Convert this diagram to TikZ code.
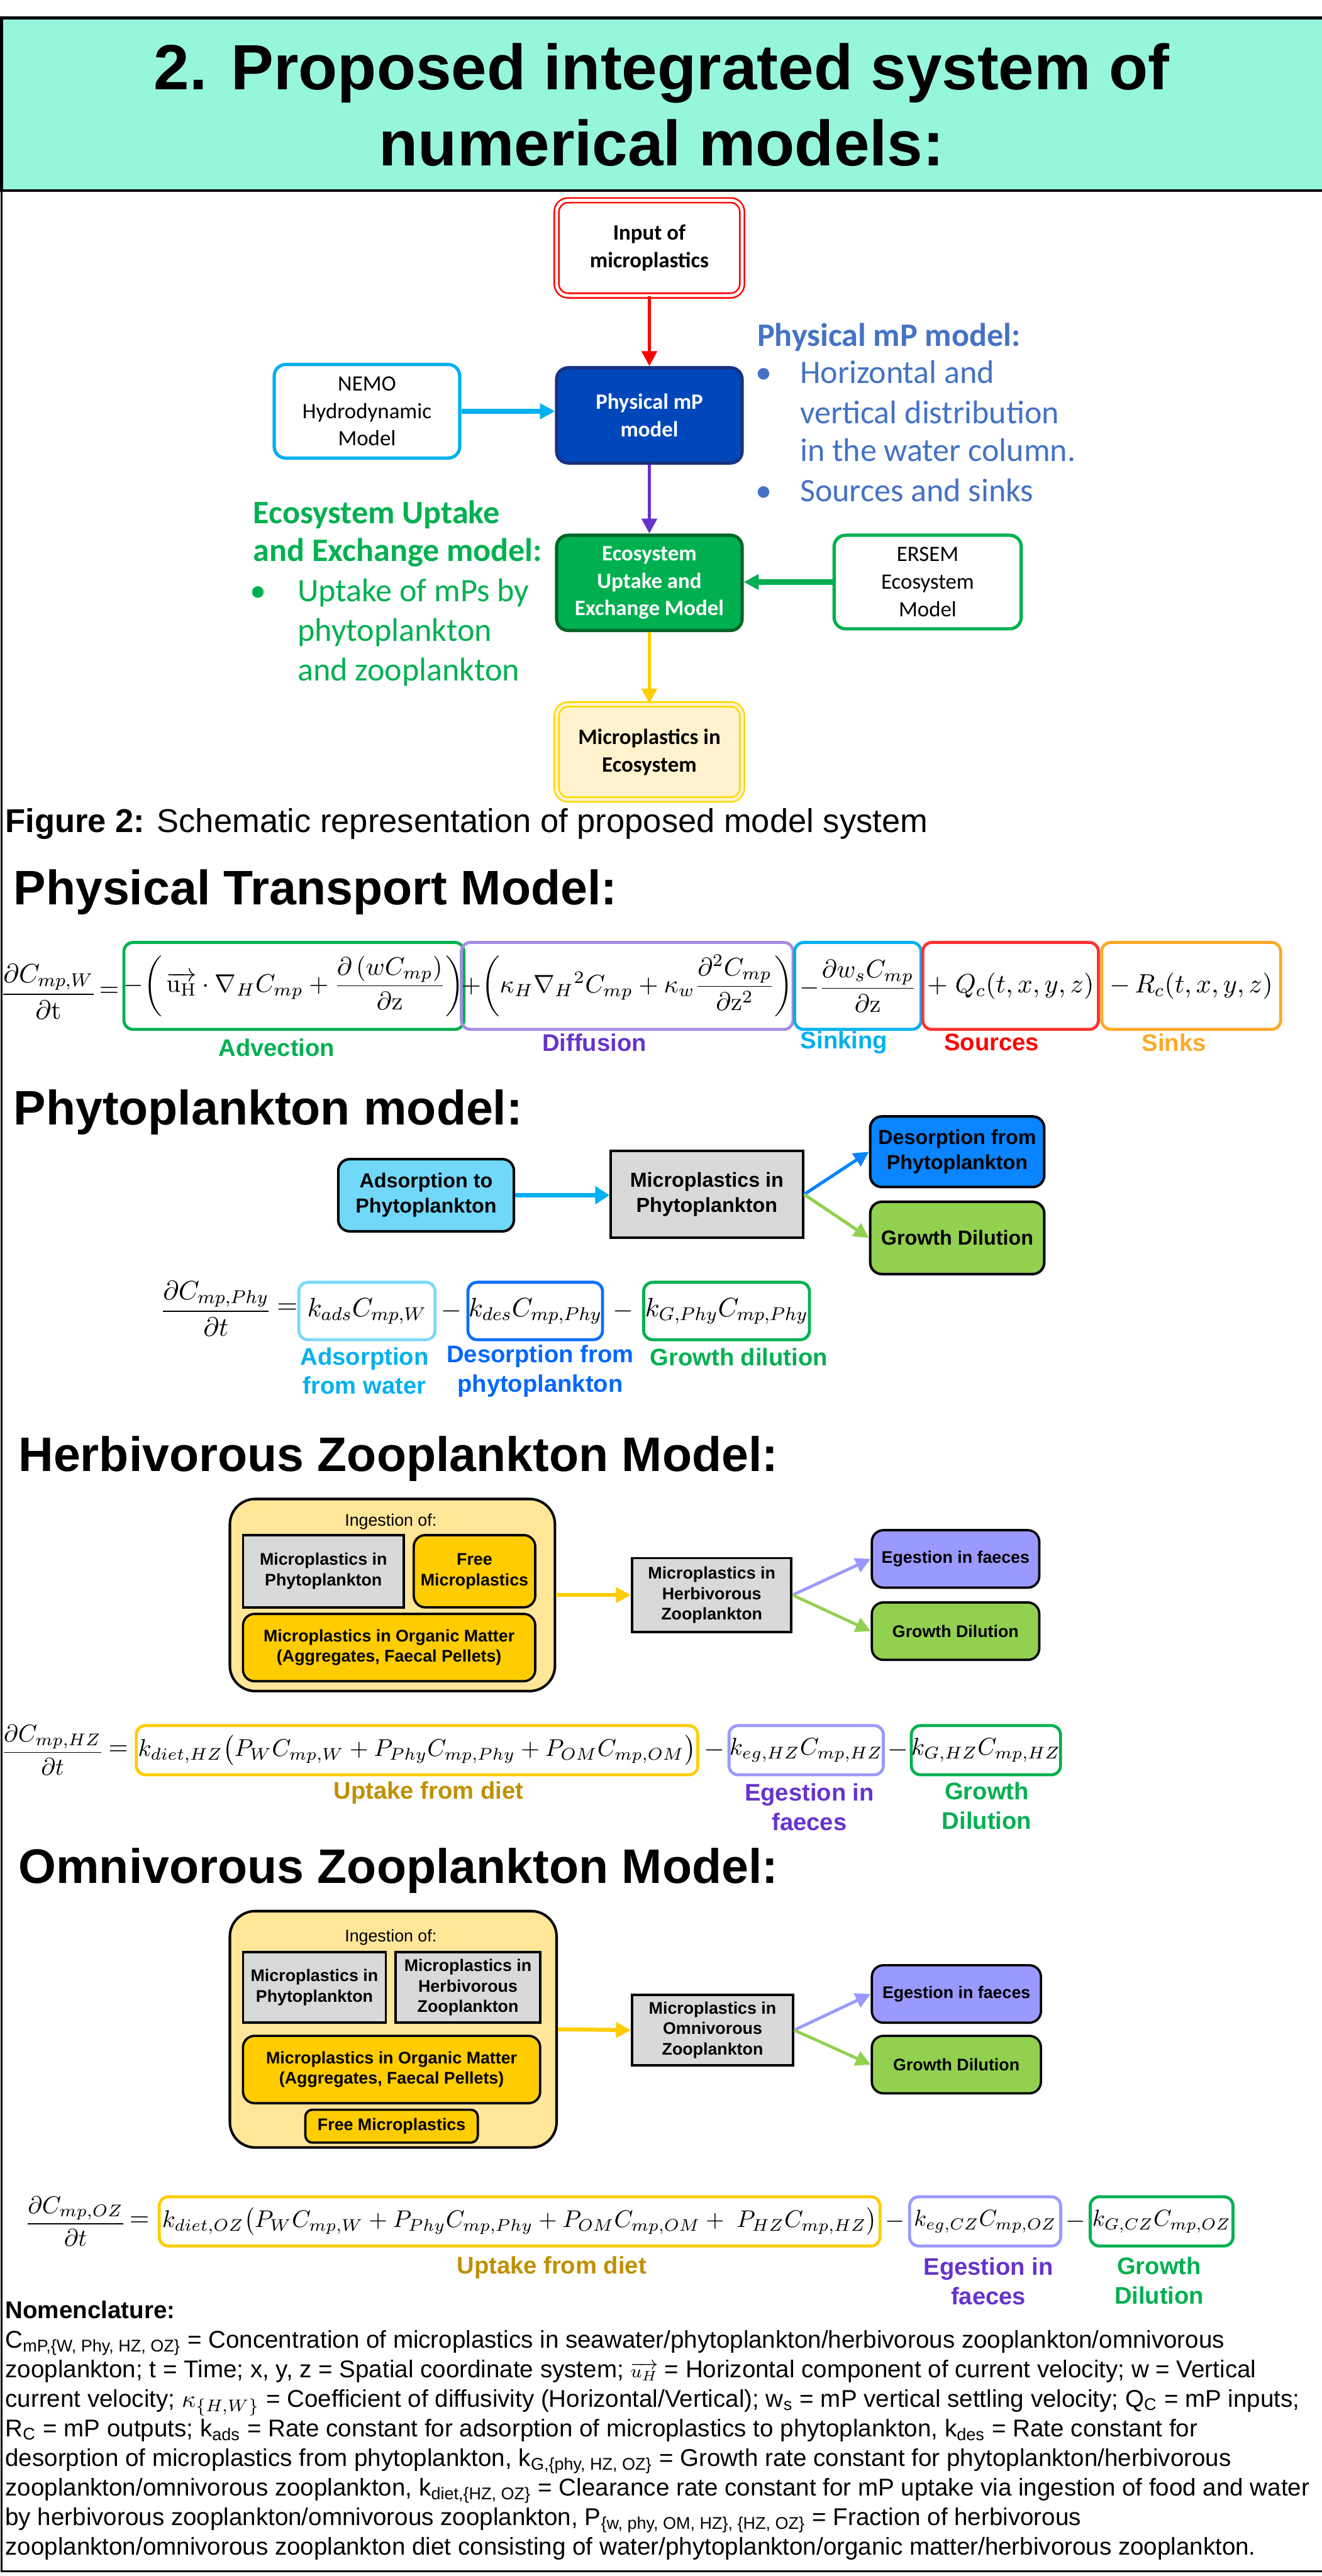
\RequirePackage{fix-cm}
\documentclass[tikz,border=0pt]{standalone}
\usepackage[no-math]{fontspec}
\setmainfont{Liberation Sans}
\newfontfamily\calfont{Carlito}
\usepackage{amsmath}
\usetikzlibrary{arrows.meta}
\definecolor{bannerteal}{RGB}{150,246,219}
\definecolor{physblue}{RGB}{0,71,187}
\definecolor{physedge}{RGB}{25,50,130}
\definecolor{nemoblue}{RGB}{0,176,240}
\definecolor{ecogreen}{RGB}{0,176,80}
\definecolor{ecoedge}{RGB}{0,100,40}
\definecolor{arrowpurple}{RGB}{102,51,204}
\definecolor{goldline}{RGB}{255,204,0}
\definecolor{paleyellow}{RGB}{255,242,204}
\definecolor{mpgold}{RGB}{255,215,0}
\definecolor{textblue}{RGB}{68,114,196}
\definecolor{adsfill}{RGB}{113,216,250}
\definecolor{desfill}{RGB}{10,132,255}
\definecolor{growfill}{RGB}{146,208,80}
\definecolor{grayfill}{RGB}{217,217,217}
\definecolor{ingestfill}{RGB}{255,230,153}
\definecolor{egfill}{RGB}{153,153,255}
\definecolor{uptakelab}{RGB}{191,144,0}
\definecolor{difline}{RGB}{169,140,224}
\definecolor{srcred}{RGB}{255,51,51}
\definecolor{sinkorange}{RGB}{255,168,38}
\definecolor{adsline}{RGB}{125,216,250}
\definecolor{desline}{RGB}{10,110,255}
\definecolor{deslab}{RGB}{0,102,255}
\setlength{\lineskiplimit}{-20pt}
\begin{document}
\begin{tikzpicture}[x=0.025cm, y=-0.025cm,
  sz/.style 2 args={minimum width=#1*0.025cm, minimum height=#2*0.025cm, inner sep=0pt},
  topbox/.style={rounded corners=5pt, line width=1.4pt, align=center, font=\calfont\fontsize{9.5}{11.9}\selectfont},
  sidetext/.style={anchor=base west, inner sep=0pt, font=\calfont\fontsize{14.2}{17}\selectfont},
  heading/.style={anchor=base west, inner sep=0pt, font=\fontsize{21}{25}\selectfont\bfseries},
  phybox/.style={draw=black, line width=1.1pt, align=center, font=\fontsize{8.8}{10.9}\selectfont\bfseries},
  zoobox/.style={draw=black, line width=1pt, align=center, font=\fontsize{7.3}{8.9}\selectfont\bfseries},
  eqbox/.style={draw=#1, rounded corners=4pt, line width=1.3pt},
  eqlabel/.style={text=#1, align=center, inner sep=0pt, font=\fontsize{10.4}{12.8}\selectfont\bfseries},
  tipped/.style={-{Triangle[length=6.5pt, width=6.5pt]}}]
\useasboundingbox (0,0) rectangle (805,1569);
% frame and banner
\draw[line width=0.8pt] (1,116) -- (1,1566) -- (812,1566);
\draw[fill=bannerteal, line width=1.2pt] (1,11) rectangle (812,116);
\node[anchor=base, inner sep=0pt, font=\fontsize{27.7}{33}\selectfont\bfseries] (title) at (403,54.6) {2. Proposed integrated system of};
\node[anchor=base, inner sep=0pt, font=\fontsize{27.7}{33}\selectfont\bfseries] (title2) at (403,101) {numerical models:};

% overview chart
\node[topbox, sz={113}{58}, draw=red, double=white, double distance=1.3pt, line width=0.7pt, font=\calfont\fontsize{9.5}{11.9}\selectfont\bfseries] (input) at (395.5,151) {Input of\\microplastics};
\node[topbox, sz={113}{58}, draw=physedge, fill=physblue, text=white, font=\calfont\fontsize{9.5}{11.9}\selectfont\bfseries] (phys) at (395.5,253) {Physical mP\\model};
\node[topbox, sz={113}{57}, draw=nemoblue, fill=white] (nemo) at (223.5,250.5) {NEMO\\Hydrodynamic\\Model};
\node[topbox, sz={113}{58}, draw=ecoedge, fill=ecogreen, text=white, font=\calfont\fontsize{9.5}{11.9}\selectfont\bfseries] (eco) at (395.5,355) {Ecosystem\\Uptake and\\Exchange Model};
\node[topbox, sz={114}{57}, draw=ecogreen, fill=white] (ersem) at (565,354.5) {ERSEM\\Ecosystem\\Model};
\node[topbox, sz={113}{58}, draw=mpgold, double=paleyellow, double distance=1.3pt, line width=0.7pt, fill=paleyellow, font=\calfont\fontsize{9.5}{11.9}\selectfont\bfseries] (mpeco) at (395.5,458) {Microplastics in\\Ecosystem};
\draw[tipped, red, line width=1.5pt] (input) -- (phys);
\draw[tipped, nemoblue, line width=2.4pt] (nemo.east) -- (nemo.east -| phys.west);
\draw[tipped, arrowpurple, line width=1.5pt] (phys) -- (eco);
\draw[tipped, ecogreen, line width=2.4pt] (ersem.west) -- (ersem.west -| eco.east);
\draw[tipped, goldline, line width=1.5pt] (eco) -- (mpeco);

\node[sidetext, text=textblue, font=\calfont\fontsize{14.2}{17}\selectfont\bfseries] (physhead) at (461,211) {Physical mP model:};
\node[sidetext, text=textblue] (physdot1) at (460,233.5) {•};
\node[sidetext, text=textblue] (physline1) at (487,233.5) {Horizontal and};
\node[sidetext, text=textblue] (physline2) at (487,258) {vertical distribution};
\node[sidetext, text=textblue] (physline3) at (487,281) {in the water column.};
\node[sidetext, text=textblue] (physdot2) at (460,305.5) {•};
\node[sidetext, text=textblue] (physline4) at (487,305.5) {Sources and sinks};

\node[sidetext, text=ecogreen, font=\calfont\fontsize{14.2}{17}\selectfont\bfseries] (ecohead1) at (154,319) {Ecosystem Uptake};
\node[sidetext, text=ecogreen, font=\calfont\fontsize{14.2}{17}\selectfont\bfseries] (ecohead2) at (154,342) {and Exchange model:};
\node[sidetext, text=ecogreen] (ecodot) at (152,366.5) {•};
\node[sidetext, text=ecogreen] (ecoline1) at (181,366.5) {Uptake of mPs by};
\node[sidetext, text=ecogreen] (ecoline2) at (181,390.5) {phytoplankton};
\node[sidetext, text=ecogreen] (ecoline3) at (181,414.5) {and zooplankton};

\node[anchor=base west, inner sep=0pt, font=\fontsize{14.3}{17}\selectfont] (caption) at (3,507) {\textbf{Figure 2:} Schematic representation of proposed model system};

% physical transport
\node[heading] (physmodel) at (8,551) {Physical Transport Model:};
\node[font=\fontsize{11.5}{14}\selectfont, inner sep=0pt] (fracw) at (29.5,604) {$\dfrac{\partial C_{mp,W}}{\partial \mathrm{t}}$};
\node[font=\fontsize{11}{14}\selectfont, inner sep=0pt] (eqw) at (66.5,604) {$=$};
\node[eqbox=ecogreen, sz={204}{53}, font=\fontsize{11}{14}\selectfont] (advect) at (179,600.5) {$-\biggl(\,\overrightarrow{\mathrm{u}_{\mathrm{H}}}\cdot\nabla_H C_{mp}+\dfrac{\partial\left(wC_{mp}\right)}{\partial\mathrm{z}}\biggr)$};
\node[eqbox=difline, sz={200}{53}, font=\fontsize{11}{14}\selectfont] (diffuse) at (382,600.5) {$+\biggl(\kappa_H\nabla_H{}^2C_{mp}+\kappa_w\dfrac{\partial^2C_{mp}}{\partial\mathrm{z}^2}\biggr)$};
\node[eqbox=nemoblue, sz={77}{53}, font=\fontsize{11}{14}\selectfont] (sinking) at (522.5,600.5) {$-\dfrac{\partial w_sC_{mp}}{\partial\mathrm{z}}$};
\node[eqbox=srcred, sz={107}{53}, font=\fontsize{11.5}{14}\selectfont] (sources) at (615.5,600.5) {${+}\;Q_c(t,x,y,z)$};
\node[eqbox=sinkorange, sz={109}{53}, font=\fontsize{11.5}{14}\selectfont] (sinks) at (725.5,600.5) {${-}\,R_c(t,x,y,z)$};
\node[eqlabel=ecogreen] (advectlab) at (168.5,638) {Advection};
\node[eqlabel=arrowpurple] (diffuselab) at (362,635) {Diffusion};
\node[eqlabel=nemoblue] (sinkinglab) at (514,635) {Sinking};
\node[eqlabel=red] (sourceslab) at (604,635) {Sources};
\node[eqlabel=sinkorange] (sinkslab) at (715,635) {Sinks};

% phytoplankton
\node[heading] (phymodel) at (8,685) {Phytoplankton model:};
\node[phybox, sz={107}{44}, fill=adsfill, rounded corners=5pt] (adsorb) at (259.5,728) {Adsorption to\\Phytoplankton};
\node[phybox, sz={117}{53}, fill=grayfill] (mpphy) at (430.5,727.5) {Microplastics in\\Phytoplankton};
\node[phybox, sz={106}{43}, fill=desfill, rounded corners=5pt] (desorb) at (583,701.5) {Desorption from\\Phytoplankton};
\node[phybox, sz={106}{44}, fill=growfill, rounded corners=5pt] (growphy) at (583,754) {Growth Dilution};
\draw[-{Triangle[length=6.2pt, width=7.6pt]}, nemoblue, line width=1.8pt] (adsorb.east) -- (adsorb.east -| mpphy.west);
\draw[tipped, desfill, line width=1.4pt] (mpphy.east) -- (desorb.west);
\draw[tipped, growfill, line width=1.4pt] (mpphy.east) -- (growphy.west);

\node[font=\fontsize{11.5}{14}\selectfont, inner sep=0pt] (fracphy) at (131.5,797) {$\dfrac{\partial C_{mp,Phy}}{\partial t}$};
\node[font=\fontsize{11.5}{14}\selectfont, inner sep=0pt] (eqphy) at (175,797) {$=$};
\node[eqbox=adsline, sz={83}{35}, font=\fontsize{11.5}{14}\selectfont] (kads) at (223.5,798.5) {$k_{ads}C_{mp,W}$};
\node[font=\fontsize{11.5}{14}\selectfont, inner sep=0pt] (minusphy1) at (275,798.5) {$-$};
\node[eqbox=desline, sz={82}{35}, font=\fontsize{11.5}{14}\selectfont] (kdes) at (326,798.5) {$k_{des}C_{mp,Phy}$};
\node[font=\fontsize{11.5}{14}\selectfont, inner sep=0pt] (minusphy2) at (379.5,798.5) {$-$};
\node[eqbox=ecogreen, sz={101}{35}, font=\fontsize{11.5}{14}\selectfont] (kgphy) at (442.5,798.5) {$k_{G,Phy}C_{mp,Phy}$};
\node[eqlabel=nemoblue] (kadslab) at (222,835) {Adsorption\\from water};
\node[eqlabel=deslab] (kdeslab) at (329,835) {Desorption from\\phytoplankton};
\node[eqlabel=ecogreen] (kgphylab) at (450,826.5) {Growth dilution};

% herbivorous zooplankton
\node[heading] (hzmodel) at (11,896) {Herbivorous Zooplankton Model:};
\node[draw=black, line width=1.1pt, fill=ingestfill, rounded corners=11pt, sz={198}{117}] (ingesthz) at (239,971.5) {};
\node[font=\fontsize{7.3}{8.9}\selectfont, inner sep=0pt] (ingestlabhz) at (238,927) {Ingestion of:};
\node[zoobox, sz={98}{44}, fill=grayfill] (phyhz) at (197,957) {Microplastics in\\Phytoplankton};
\node[zoobox, sz={74}{44}, fill=goldline, rounded corners=5pt] (freehz) at (289,957) {Free\\Microplastics};
\node[zoobox, sz={178}{41}, fill=goldline, rounded corners=5pt] (omhz) at (237,1003.5) {Microplastics in Organic Matter\\(Aggregates, Faecal Pellets)};
\node[zoobox, sz={97}{45}, fill=grayfill] (mphz) at (433.5,971.5) {Microplastics in\\Herbivorous\\Zooplankton};
\node[zoobox, sz={102}{35}, fill=egfill, rounded corners=5pt] (eghz) at (582,949.5) {Egestion in faeces};
\node[zoobox, sz={102}{35}, fill=growfill, rounded corners=5pt] (grhz) at (582,993.5) {Growth Dilution};
\draw[tipped, goldline, line width=1.7pt] (ingesthz.east) -- (mphz.west);
\draw[tipped, egfill, line width=1.3pt] (mphz.east) -- (eghz.west);
\draw[tipped, growfill, line width=1.3pt] (mphz.east) -- (grhz.west);

\node[font=\fontsize{10.5}{14}\selectfont, inner sep=0pt] (frachz) at (32,1066) {$\dfrac{\partial C_{mp,HZ}}{\partial t}$};
\node[font=\fontsize{11}{14}\selectfont, inner sep=0pt] (eqhz) at (72,1066) {$=$};
\node[eqbox=goldline, sz={342}{30}, font=\fontsize{10.5}{14}\selectfont] (uphz) at (254,1066) {$k_{diet,HZ}\bigl(P_WC_{mp,W}+P_{Phy}C_{mp,Phy}+P_{OM}C_{mp,OM}\bigr)$};
\node[font=\fontsize{11.5}{14}\selectfont, inner sep=0pt] (minushz1) at (435,1066) {$-$};
\node[eqbox=egfill, sz={94}{30}, font=\fontsize{10.5}{14}\selectfont] (eghzeq) at (491,1066) {$k_{eg,HZ}C_{mp,HZ}$};
\node[font=\fontsize{11.5}{14}\selectfont, inner sep=0pt] (minushz2) at (547,1066) {$-$};
\node[eqbox=ecogreen, sz={89}{30}, font=\fontsize{10.5}{14}\selectfont] (grhzeq) at (600.5,1066) {$k_{G,HZ}C_{mp,HZ}$};
\node[eqlabel=uptakelab] (uphzlab) at (261,1092) {Uptake from diet};
\node[eqlabel=arrowpurple] (eghzlab) at (493,1100.5) {Egestion in\\faeces};
\node[eqlabel=ecogreen] (grhzlab) at (601,1100) {Growth\\Dilution};

% omnivorous zooplankton
\node[heading] (ozmodel) at (11,1147) {Omnivorous Zooplankton Model:};
\node[draw=black, line width=1.1pt, fill=ingestfill, rounded corners=11pt, sz={199}{144}] (ingestoz) at (239.5,1236) {};
\node[font=\fontsize{7.3}{8.9}\selectfont, inner sep=0pt] (ingestlaboz) at (238,1180) {Ingestion of:};
\node[zoobox, sz={87}{43}, fill=grayfill] (phyoz) at (191.5,1210.5) {Microplastics in\\Phytoplankton};
\node[zoobox, sz={88}{43}, fill=grayfill] (hzoz) at (285,1210.5) {Microplastics in\\Herbivorous\\Zooplankton};
\node[zoobox, sz={181}{41}, fill=goldline, rounded corners=5pt] (omoz) at (238.5,1260.5) {Microplastics in Organic Matter\\(Aggregates, Faecal Pellets)};
\node[zoobox, sz={105}{20}, fill=goldline, rounded corners=3pt] (freeoz) at (238.5,1295) {Free Microplastics};
\node[zoobox, sz={98}{43}, fill=grayfill] (mpoz) at (434,1236.5) {Microplastics in\\Omnivorous\\Zooplankton};
\node[zoobox, sz={103}{35}, fill=egfill, rounded corners=5pt] (egoz) at (582.5,1214.5) {Egestion in faeces};
\node[zoobox, sz={103}{35}, fill=growfill, rounded corners=5pt] (groz) at (582.5,1257.5) {Growth Dilution};
\draw[tipped, goldline, line width=1.7pt] (ingestoz.east) -- (mpoz.west);
\draw[tipped, egfill, line width=1.3pt] (mpoz.east) -- (egoz.west);
\draw[tipped, growfill, line width=1.3pt] (mpoz.east) -- (groz.west);

\node[font=\fontsize{10.5}{14}\selectfont, inner sep=0pt] (fracoz) at (46,1353) {$\dfrac{\partial C_{mp,OZ}}{\partial t}$};
\node[font=\fontsize{11}{14}\selectfont, inner sep=0pt] (eqoz) at (85,1353) {$=$};
\node[eqbox=goldline, sz={439}{30}, font=\fontsize{10.4}{14}\selectfont] (upoz) at (316.5,1353) {$k_{diet,OZ}\bigl(P_WC_{mp,W}+P_{Phy}C_{mp,Phy}+P_{OM}C_{mp,OM}+\ P_{HZ}C_{mp,HZ}\bigr)$};
\node[font=\fontsize{11}{14}\selectfont, inner sep=0pt] (minusoz1) at (545,1353) {$-$};
\node[eqbox=egfill, sz={92}{30}, font=\fontsize{10}{14}\selectfont] (egozeq) at (600,1353) {$k_{eg,CZ}C_{mp,OZ}$};
\node[font=\fontsize{11}{14}\selectfont, inner sep=0pt] (minusoz2) at (655,1353) {$-$};
\node[eqbox=ecogreen, sz={87}{30}, font=\fontsize{10}{14}\selectfont] (grozeq) at (707.5,1353) {$k_{G,CZ}C_{mp,OZ}$};
\node[eqlabel=uptakelab] (upozlab) at (336,1381) {Uptake from diet};
\node[eqlabel=arrowpurple] (egozlab) at (602,1389.5) {Egestion in\\faeces};
\node[eqlabel=ecogreen] (grozlab) at (706,1389) {Growth\\Dilution};

% nomenclature
\node[anchor=north west, align=left, inner sep=0pt, font=\fontsize{10.5}{12.8}\selectfont] (nomen) at (3,1401) {\textbf{Nomenclature:}\\
C\textsubscript{mP,\{W, Phy, HZ, OZ\}} = Concentration of microplastics in seawater/phytoplankton/herbivorous zooplankton/omnivorous\\
zooplankton; t = Time; x, y, z = Spatial coordinate system; \smash{\fontsize{8}{9}\selectfont$\overrightarrow{u_H}$} = Horizontal component of current velocity; w = Vertical\\
current velocity; $\kappa_{\{H,W\}}$ = Coefficient of diffusivity (Horizontal/Vertical); w\textsubscript{s} = mP vertical settling velocity; Q\textsubscript{C} = mP inputs;\\
R\textsubscript{C} = mP outputs; k\textsubscript{ads} = Rate constant for adsorption of microplastics to phytoplankton, k\textsubscript{des} = Rate constant for\\
desorption of microplastics from phytoplankton, k\textsubscript{G,\{phy, HZ, OZ\}} = Growth rate constant for phytoplankton/herbivorous\\
zooplankton/omnivorous zooplankton, k\textsubscript{diet,\{HZ, OZ\}} = Clearance rate constant for mP uptake via ingestion of food and water\\
by herbivorous zooplankton/omnivorous zooplankton, P\textsubscript{\{w, phy, OM, HZ\}, \{HZ, OZ\}} = Fraction of herbivorous\\
zooplankton/omnivorous zooplankton diet consisting of water/phytoplankton/organic matter/herbivorous zooplankton.};
\end{tikzpicture}
\end{document}
